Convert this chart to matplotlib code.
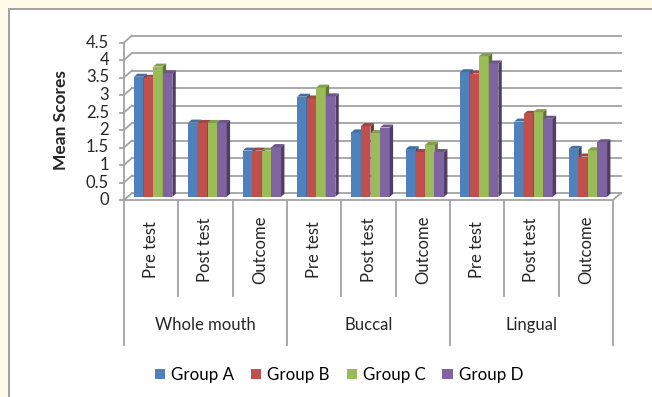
import matplotlib
matplotlib.use("Agg")
import matplotlib.pyplot as plt
from matplotlib.patches import Rectangle, Polygon
import numpy as np

plt.rcParams['font.family'] = ['Lato', 'DejaVu Sans']

# ---------------- data ----------------
regions = ["Whole mouth", "Buccal", "Lingual"]
stages = ["Pre test", "Post test", "Outcome"]
groups = ["Group A", "Group B", "Group C", "Group D"]
group_a = [3.43, 2.12, 1.32, 2.86, 1.84, 1.36, 3.56, 2.15, 1.37]
group_b = [3.40, 2.11, 1.32, 2.81, 2.02, 1.28, 3.52, 2.37, 1.15]
group_c = [3.72, 2.11, 1.32, 3.12, 1.82, 1.48, 4.02, 2.42, 1.33]
group_d = [3.53, 2.11, 1.42, 2.87, 1.98, 1.28, 3.81, 2.23, 1.56]
series = [group_a, group_b, group_c, group_d]
colors = ["#4F81BD", "#C0504D", "#9BBB59", "#8064A2"]
yticks = [0, 0.5, 1, 1.5, 2, 2.5, 3, 3.5, 4, 4.5]
ytick_labels = ["0", "0.5", "1", "1.5", "2", "2.5", "3", "3.5", "4", "4.5"]

W, H = 652, 397
fig = plt.figure(figsize=(W / 100, H / 100), dpi=100)
fig.patch.set_facecolor("#FFFBE8")
txt_c = "#262626"

# white chart box
fig.patches.append(Rectangle((8.5 / W, -0.1), 1.2, (H - 9.5) / H + 0.1,
                             transform=fig.transFigure, facecolor="white",
                             edgecolor="#9a9a9a", linewidth=1.3, zorder=-5))

# plot area (front plane): x 124..613 px, y 0 at 200px, 4.5 at 42.5px
x0, x1 = 124, 613
y0, y45 = 200, 42.5
ax = fig.add_axes([x0 / W, (H - y0) / H, (x1 - x0) / W, (y0 - y45) / H])
ax.set_zorder(2)
ncat = len(group_a)
ax.set_xlim(0, ncat)
ax.set_ylim(0, 4.5)
ax.axis("off")

pxx = (x1 - x0) / ncat          # px per x unit
pxy = (y0 - y45) / 4.5          # px per y unit
DX, DY = 8 / pxx, 7 / pxy       # full depth
grid_c = "#a3a3a3"
lw = 1.3

# back wall gridlines and left wall slants
for v in yticks:
    ax.plot([DX, ncat + DX], [v + DY, v + DY], color=grid_c, lw=lw, clip_on=False, zorder=1)
    ax.plot([0, DX], [v, v + DY], color=grid_c, lw=lw, clip_on=False, zorder=1)
    ax.plot([-4 / pxx, 0], [v, v], color=grid_c, lw=lw, clip_on=False, zorder=1)
# front vertical axis and floor
ax.plot([0, 0], [0, 4.5], color=grid_c, lw=lw, clip_on=False, zorder=1)
ax.plot([0, ncat], [0, 0], color=grid_c, lw=lw, clip_on=False, zorder=1)
ax.plot([ncat, ncat + DX], [0, DY], color=grid_c, lw=lw, clip_on=False, zorder=1)

# bars
bw = 9.6 / pxx
bdx, bdy = 2.0 / pxx, 3.2 / pxy       # bar front offset
ddx, ddy = 3.4 / pxx, 3.0 / pxy       # bar depth


def shade(c, f):
    c = np.array(matplotlib.colors.to_rgb(c))
    return tuple(np.clip(c * f, 0, 1))


z = 3
for i in range(ncat):
    for j, (vals, col) in enumerate(zip(series, colors)):
        v = vals[i]
        xl = i + 0.5 - 2 * bw + j * bw + bdx
        xr = xl + bw
        ax.bar(xl, v, width=bw, bottom=bdy, align="edge", color=col,
               linewidth=0, zorder=z, clip_on=False)
        ax.add_patch(Polygon([(xr, bdy), (xr + ddx, bdy + ddy), (xr + ddx, bdy + v + ddy), (xr, bdy + v)],
                             closed=True, facecolor=shade(col, 0.62), linewidth=0, zorder=z, clip_on=False))
        ax.add_patch(Polygon([(xl, bdy + v), (xr, bdy + v), (xr + ddx, bdy + v + ddy), (xl + ddx, bdy + v + ddy)],
                             closed=True, facecolor=shade(col, 0.85), linewidth=0, zorder=z, clip_on=False))
        z += 1

# y tick labels
for v, lab in zip(yticks, ytick_labels):
    ax.text(-15 / pxx, v, lab, ha="right", va="center", fontsize=12, color=txt_c, clip_on=False)
fig.text(61 / W, (H - 120) / H, "Mean Scores", rotation=90, ha="center", va="center",
         fontsize=12.5, fontweight="bold", color=txt_c)

# category separators and labels below axis
for k in range(ncat + 1):
    depth = 145 if k % 3 == 0 else 96
    ax.plot([k, k], [0, -depth / pxy], color=grid_c, lw=lw, clip_on=False, zorder=1)
for i in range(ncat):
    ax.text(i + 0.5, -50 / pxy, stages[i % 3], rotation=90, ha="center", va="center",
            fontsize=12, color=txt_c, clip_on=False)
for r, name in enumerate(regions):
    ax.text(r * 3 + 1.5, -125 / pxy, name, ha="center", va="center",
            fontsize=12, color=txt_c, clip_on=False)

# legend
handles = [Rectangle((0, 0), 1, 1, facecolor=c, edgecolor="none") for c in colors]
fig.legend(handles, groups, loc="center", bbox_to_anchor=(339 / W, (H - 375) / H), ncol=4,
           frameon=False, fontsize=12.2, handlelength=0.6, handleheight=0.6,
           handletextpad=0.35, columnspacing=1.0)

fig.savefig("out.png", dpi=100, facecolor=fig.get_facecolor())
